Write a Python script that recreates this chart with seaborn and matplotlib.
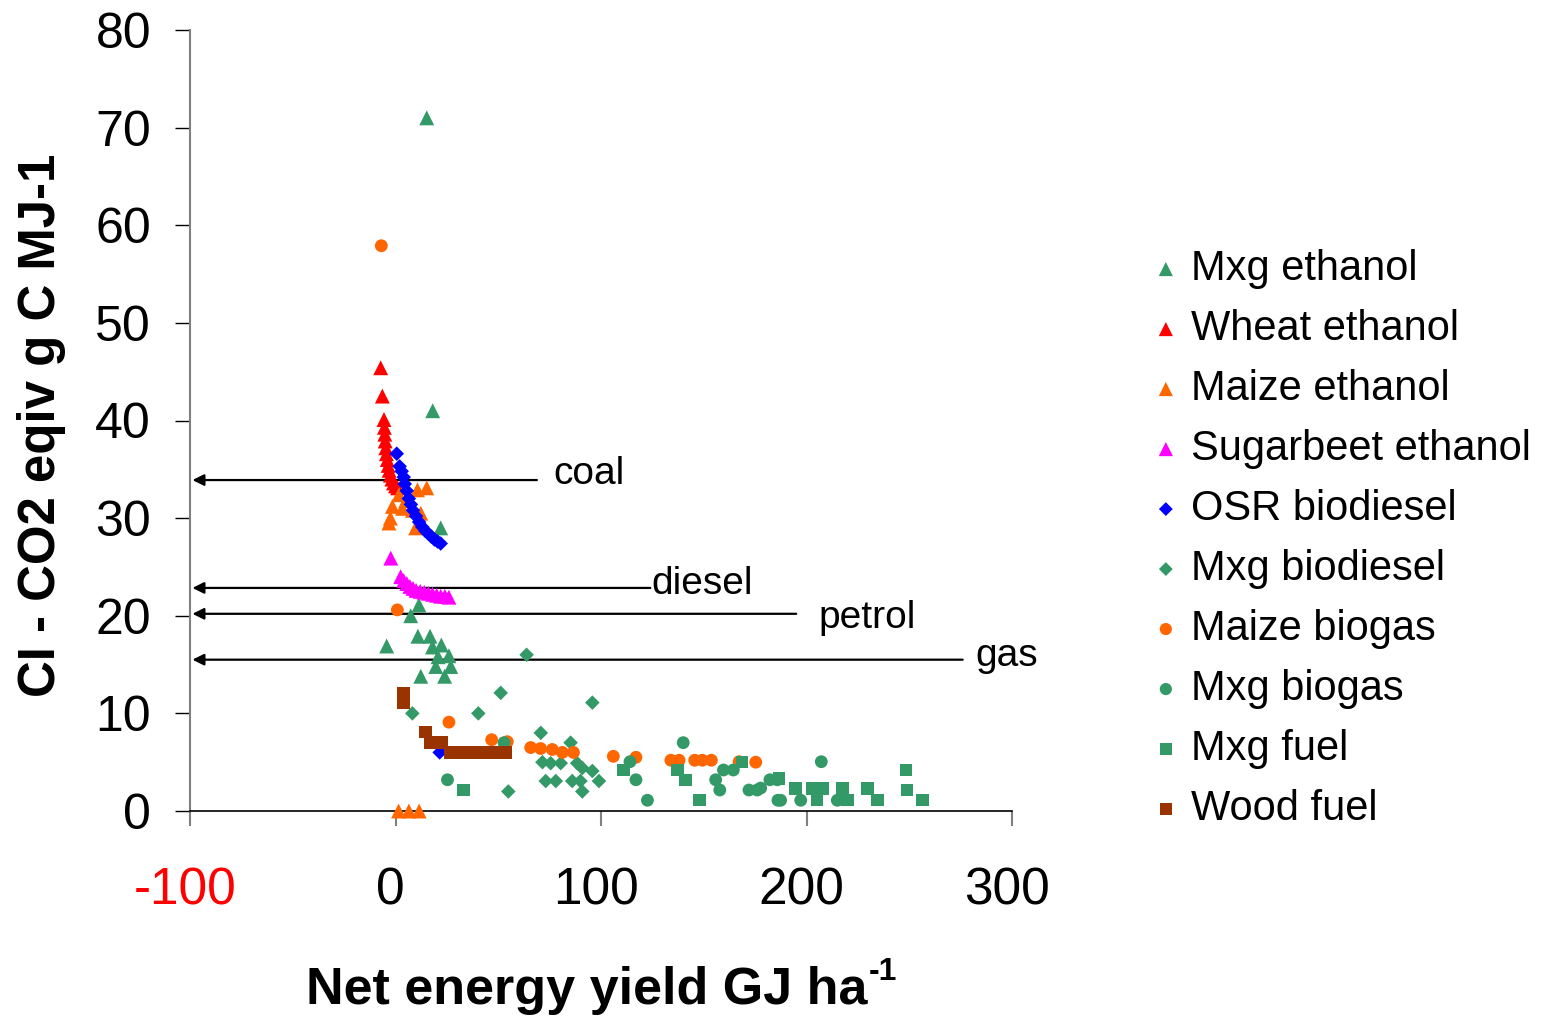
import matplotlib
matplotlib.use("Agg")
import matplotlib.pyplot as plt
import matplotlib.transforms as mtransforms
import seaborn as sns
import numpy as np

sns.set_style("white")
plt.rcParams['font.family'] = ['Liberation Sans', 'DejaVu Sans']
plt.rcParams['axes.unicode_minus'] = False
plt.rcParams['text.color'] = 'black'
plt.rcParams['xtick.labelcolor'] = 'black'
plt.rcParams['ytick.labelcolor'] = 'black'

# ---------------- data ----------------
series_names = ["Mxg ethanol", "Wheat ethanol", "Maize ethanol", "Sugarbeet ethanol",
                "OSR biodiesel", "Mxg biodiesel", "Maize biogas", "Mxg biogas",
                "Mxg fuel", "Wood fuel"]

mxg_ethanol_x = [15.2, 18.1, 22.0, 11.4, 7.4, -4.3, 10.9, 16.8, 18.0, 22.3, 20.7, 26.0, 19.6, 26.9, 12.3, 23.9]
mxg_ethanol_y = [71.0, 41.0, 29.0, 21.1, 20.0, 16.9, 17.9, 17.9, 16.8, 17.0, 15.8, 15.9, 14.8, 14.8, 13.8, 13.8]

wheat_ethanol_x = [-7.2, -6.4, -5.6, -5.4, -5.2, -5.0, -4.7, -4.4, -4.0, -3.6, -3.1, -2.5, -1.8, -1.0, 0.0, 1.0]
wheat_ethanol_y = [45.4, 42.5, 40.1, 39.3, 38.6, 37.9, 37.2, 36.6, 36.0, 35.4, 34.9, 34.4, 34.0, 33.6, 33.3, 33.1]

maize_ethanol_x = [1.5, 6.5, 11.5, 10.7, 15.2, 1.7, -1.5, 3.4, 8.2, -3.2, 9.8, 12.3, -2.5, 5.0]
maize_ethanol_y = [0.0, 0.0, 0.0, 32.9, 33.1, 32.4, 31.2, 31.0, 30.8, 29.5, 29.0, 30.5, 30.0, 31.8]

sugarbeet_ethanol_x = [-2.3, 2.5, 4.0, 5.5, 7.0, 8.5, 10.0, 12.0, 14.0, 16.0, 18.0, 20.0, 22.0, 24.0, 26.0]
sugarbeet_ethanol_y = [25.9, 24.0, 23.6, 23.3, 23.0, 22.8, 22.6, 22.5, 22.4, 22.3, 22.2, 22.1, 22.0, 22.0, 21.9]

osr_biodiesel_x = [0.6, 2.0, 3.0, 4.0, 4.5, 5.5, 6.5, 7.5, 8.5, 10.0, 11.5, 13.0, 14.5, 16.0, 17.5, 19.0, 20.5, 22.0, 21.5]
osr_biodiesel_y = [36.6, 35.3, 34.8, 34.2, 33.5, 32.8, 32.0, 31.4, 30.8, 30.2, 29.6, 29.1, 28.7, 28.4, 28.1, 27.8, 27.6, 27.4, 6.0]

mxg_biodiesel_x = [63.8, 51.2, 8.2, 40.3, 70.7, 54.9, 95.8, 85.2, 71.5, 75.5, 80.4, 88.4, 90.9, 95.8,
                   73.1, 78.0, 86.0, 90.0, 99.0, 90.9]
mxg_biodiesel_y = [16.0, 12.1, 10.0, 10.0, 8.0, 2.0, 11.1, 7.0, 5.0, 4.9, 4.9, 4.9, 4.4, 4.1,
                   3.07, 3.07, 3.07, 3.07, 3.07, 2.0]

maize_biogas_x = [-6.9, 0.9, 26.0, 46.8, 54.4, 65.8, 70.6, 76.3, 81.2, 86.6, 106.0, 117.0, 134.0, 138.0,
                  145.6, 149.3, 153.7, 167.2, 175.3]
maize_biogas_y = [57.9, 20.6, 9.1, 7.3, 7.1, 6.5, 6.4, 6.3, 6.0, 6.0, 5.6, 5.5, 5.2, 5.2,
                  5.2, 5.2, 5.2, 5.05, 5.0]

mxg_biogas_x = [25.3, 52.8, 140.0, 114.1, 117.0, 122.6, 159.6, 164.4, 155.8, 157.8, 172.0, 176.0,
                182.2, 185.8, 186.1, 207.2, 187.4, 197.2, 215.0, 177.7]
mxg_biogas_y = [3.2, 7.0, 7.0, 5.05, 3.2, 1.1, 4.2, 4.2, 3.2, 2.15, 2.15, 2.15,
                3.2, 3.2, 1.1, 5.05, 1.1, 1.1, 1.1, 2.35]

mxg_fuel_x = [33.0, 110.9, 137.2, 141.2, 148.0, 168.5, 186.6, 194.7, 205.0, 207.7, 217.5, 220.0,
              229.6, 234.5, 248.3, 249.0, 256.4, 203.0]
mxg_fuel_y = [2.15, 4.2, 4.2, 3.2, 1.1, 5.0, 3.35, 2.3, 1.1, 2.3, 2.3, 1.1,
              2.3, 1.1, 4.2, 2.15, 1.1, 2.3]

wood_fuel_x = [3.8, 3.8, 14.7, 16.9, 19.8, 22.7, 26.4, 28.9, 31.4, 33.9, 36.4, 38.9, 41.4, 43.9,
               46.4, 48.9, 51.3, 53.6]
wood_fuel_y = [12.1, 11.1, 8.1, 7.0, 7.0, 7.0, 6.0, 6.0, 6.0, 6.0, 6.0, 6.0, 6.0, 6.0,
               6.0, 6.0, 6.0, 6.0]

ref_names = ["coal", "diesel", "petrol", "gas"]
ref_values = [33.9, 22.85, 20.2, 15.5]
ref_line_end = [68.8, 124.0, 195.0, 276.0]
ref_text_x = [77.0, 124.6, 206.0, 282.4]
ref_text_y = [34.5, 23.3, 19.8, 15.9]

x_ticks = [-100, 0, 100, 200, 300]
x_tick_labels = ["-100", "0", "100", "200", "300"]
y_ticks = [0, 10, 20, 30, 40, 50, 60, 70, 80]

# ---------------- styles ----------------
GREEN = "#339966"
series = [
    (mxg_ethanol_x, mxg_ethanol_y, "^", GREEN, 115),
    (wheat_ethanol_x, wheat_ethanol_y, "^", "#FF0000", 115),
    (maize_ethanol_x, maize_ethanol_y, "^", "#FF6600", 115),
    (sugarbeet_ethanol_x, sugarbeet_ethanol_y, "^", "#FF00FF", 115),
    (osr_biodiesel_x, osr_biodiesel_y, "D", "#0000FF", 55),
    (mxg_biodiesel_x, mxg_biodiesel_y, "D", GREEN, 55),
    (maize_biogas_x, maize_biogas_y, "o", "#FF6600", 85),
    (mxg_biogas_x, mxg_biogas_y, "o", GREEN, 85),
    (mxg_fuel_x, mxg_fuel_y, "s", GREEN, 80),
    (wood_fuel_x, wood_fuel_y, "s", "#993300", 80),
]

W, H = 1547, 1016
fig = plt.figure(figsize=(W / 100, H / 100), dpi=100)
ax = fig.add_axes([190 / W, 1 - 811 / H, 822 / W, 781 / H])

for name, (xs, ys, mk, col, s) in zip(series_names, series):
    sns.scatterplot(x=xs, y=ys, marker=mk, color=col, s=s, linewidth=0,
                    edgecolor="none", label=name, ax=ax, clip_on=False, zorder=3)

# reference lines with arrows
for nm, v, xe, tx, ty in zip(ref_names, ref_values, ref_line_end, ref_text_x, ref_text_y):
    ax.annotate("", xy=(-98.8, v), xytext=(xe, v),
                arrowprops=dict(arrowstyle="-|>", color="black", lw=1.6,
                                mutation_scale=17, shrinkA=0, shrinkB=0),
                zorder=2)
    ax.text(tx, ty, nm, fontsize=28, ha="left", va="center", color="black")

ax.set_xlim(-100, 300)
ax.set_ylim(0, 80)
ax.set_xticks(x_ticks)
ax.set_xticklabels(x_tick_labels)
ax.set_yticks(y_ticks)
ax.get_xticklabels()[0].set_color("red")

for sp in ["top", "right"]:
    ax.spines[sp].set_visible(False)
ax.spines["left"].set_color("#808080")
ax.spines["left"].set_linewidth(1.5)
ax.spines["bottom"].set_color("black")
ax.spines["bottom"].set_linewidth(1.2)

ax.tick_params(axis="x", direction="out", length=11, width=1.5, color="#808080",
               labelsize=37, pad=29, bottom=True)
ax.tick_params(axis="y", direction="out", length=11, width=1.0, color="black",
               labelsize=36, pad=17, left=True)

# shift x tick labels slightly left as in the reference
shift = mtransforms.ScaledTranslation(-5 / 100, 0, fig.dpi_scale_trans)
for lab in ax.get_xticklabels():
    lab.set_transform(lab.get_transform() + shift)

ax.set_xlabel("")
ax.set_ylabel("")
fig.text(868 / W, 1 - 1004 / H, "Net energy yield GJ ha", fontsize=37.5,
         fontweight="bold", ha="right", va="baseline")
fig.text(869 / W, 1 - 980 / H, "-1", fontsize=23,
         fontweight="bold", ha="left", va="baseline")
fig.text(42 / W, 1 - 425 / H, "CI - CO2 eqiv g C MJ-1", fontsize=36.7,
         fontweight="bold", rotation=90, ha="center", va="center")

ax.legend(loc="upper left", bbox_to_anchor=(1145 / W, 1 - 249 / H),
          bbox_transform=fig.transFigure, frameon=False, fontsize=30,
          markerscale=0.95, handlelength=1.0, handletextpad=0.1,
          labelspacing=0.48, borderpad=0, borderaxespad=0, scatterpoints=1)

fig.savefig("out.png", dpi=100)
